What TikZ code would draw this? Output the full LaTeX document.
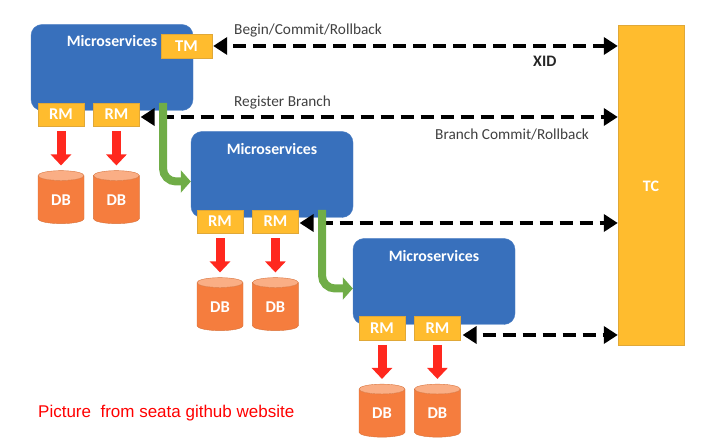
\documentclass[tikz,border=0pt]{standalone}
\usepackage{fontspec}
\setmainfont{Carlito}
\newfontfamily\arialfont{Liberation Sans}
\usetikzlibrary{arrows.meta,positioning,shapes.geometric}
\definecolor{msblue}{HTML}{3870BC}
\definecolor{tcyellow}{HTML}{FFBC2E}
\definecolor{tcedge}{HTML}{E0A838}
\definecolor{dborange}{HTML}{F57D3E}
\definecolor{dbtop}{HTML}{FAAE85}
\definecolor{dbedge}{HTML}{D8733C}
\definecolor{callgreen}{HTML}{70AD47}
\definecolor{ioread}{HTML}{FF281E}
\definecolor{labelgray}{HTML}{404040}

\begin{document}
\begin{tikzpicture}[x=1pt,y=-1pt,
    ms box/.style={draw=msblue!90!white,fill=msblue,rounded corners=11pt,minimum width=162pt,minimum height=86pt},
    ms text/.style={text=white,font=\fontsize{15.8}{16}\selectfont\bfseries,inner sep=0pt},
    yellow box/.style={draw=tcedge,fill=tcyellow,text=white,inner sep=0pt,font=\fontsize{16.5}{16}\selectfont\bfseries},
    rm box/.style={yellow box,minimum width=46pt,minimum height=23.5pt},
    db node/.style={cylinder,shape border rotate=90,aspect=0.5,draw=dbedge,cylinder uses custom fill,
      cylinder body fill=dborange,cylinder end fill=dbtop,text=white,inner sep=0pt,
      minimum width=46pt,minimum height=53pt,font=\fontsize{16.5}{16}\selectfont\bfseries},
    note/.style={text=labelgray,inner sep=0pt,font=\fontsize{15.3}{16}\selectfont},
    dash arrow/.style={{Triangle[width=17pt,length=14pt]}-{Triangle[width=17pt,length=14pt]},line width=4pt,dash pattern=on 13pt off 7pt,dash phase=13pt},
    io arrow/.style={-{Triangle[width=20pt,length=11pt]},ioread,line width=9pt,shorten <=5pt,shorten >=5pt},
    call arrow/.style={-{Triangle[width=22pt,length=10pt]},callgreen,line width=8pt,rounded corners=13pt}]
  \useasboundingbox (0,0) rectangle (724,443);

  \node[draw=tcedge,fill=tcyellow,minimum width=66pt,minimum height=320pt] (tc) at (651,185) {};
  \node[text=white,inner sep=0pt,font=\fontsize{16}{16}\selectfont\bfseries] (tcname) at (651,186) {TC};

  % three services
  \node[ms box] (ms1) at (112,67.5) {};
  \node[ms box] (ms2) at (272,174.5) {};
  \node[ms box] (ms3) at (434,281.5) {};
  \node[ms text] (ms1name) at ([yshift=-17pt]ms1.north) {Microservices};
  \node[ms text] (ms2name) at ([yshift=-18pt]ms2.north) {Microservices};
  \node[ms text] (ms3name) at ([yshift=-18pt]ms3.north) {Microservices};

  \node[yellow box,minimum width=51pt,minimum height=23.5pt] (tm) at (186.5,46) {TM};

  \node[rm box] (rm1a) at (61,114.5) {RM};
  \node[rm box] (rm1b) [right=9pt of rm1a] {RM};
  \node[rm box] (rm2a) at (220,221.5) {RM};
  \node[rm box] (rm2b) [right=9pt of rm2a] {RM};
  \node[rm box] (rm3a) at (382,328) {RM};
  \node[rm box] (rm3b) [right=9pt of rm3a] {RM};

  \node[db node] (db1a) [below=44pt of rm1a] {DB};
  \node[db node] (db1b) [below=44pt of rm1b] {DB};
  \node[db node] (db2a) [below=44pt of rm2a] {DB};
  \node[db node] (db2b) [below=44pt of rm2b] {DB};
  \node[db node] (db3a) [below=44pt of rm3a] {DB};
  \node[db node] (db3b) [below=44pt of rm3b] {DB};

  % dashed links to the coordinator
  \draw[dash arrow,shorten <=1pt] (tm.east) -- (tm.east -| tc.west);
  \draw[dash arrow,shorten <=1pt] ([yshift=-2.5pt]rm1b.east) -- ([yshift=-2.5pt]rm1b.east -| tc.west);
  \draw[dash arrow,shorten <=1pt] ([yshift=-1.5pt]rm2b.east) -- ([yshift=-1.5pt]rm2b.east -| tc.west);
  \draw[dash arrow,shorten <=2pt] ([yshift=-7pt]rm3b.east) -- ([yshift=-7pt]rm3b.east -| tc.west);

  \foreach \n in {1a,1b,2a,2b,3a,3b}
    \draw[io arrow] (rm\n) -- (db\n);

  \coordinate (call1) at (163,103);
  \coordinate (call2) at (322,210);
  \draw[call arrow] (call1) |- ([yshift=-7pt]ms2.west);
  \draw[call arrow] (call2) |- ([yshift=-7pt]ms3.west);

  \node[note,anchor=west] (begin) at (234,31) {Begin/Commit/Rollback};
  \node[note,anchor=west,font=\fontsize{16}{16}\selectfont\bfseries,text=black!85] (xid) at (533,61) {XID};
  \node[note,anchor=west] (register) at (234,103) {Register Branch};
  \node[note,anchor=west] (branch) at (435,135) {Branch Commit/Rollback};
  \node[anchor=west,text=red,inner sep=0pt,font=\arialfont\fontsize{17}{18}\selectfont] (source) at (38,413) {Picture\ \ from seata github website};
\end{tikzpicture}
\end{document}
